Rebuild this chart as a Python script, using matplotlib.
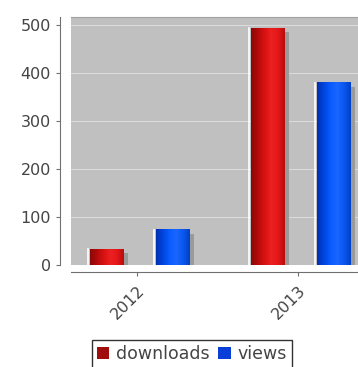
import matplotlib
matplotlib.use('Agg')
import matplotlib.pyplot as plt
import matplotlib.transforms as mtransforms
from matplotlib.colors import LinearSegmentedColormap
from matplotlib.patches import Rectangle
import numpy as np

years = ['2012', '2013']
downloads = [33, 494]
views = [73, 380]

plt.rcParams['font.family'] = 'DejaVu Sans'

fig = plt.figure(figsize=(3.58, 3.67), dpi=100)
ax = fig.add_axes([71 / 358, 1 - 265 / 367, 294 / 358, 248 / 367])
ax.set_facecolor('#c0c0c0')

ind = np.arange(len(years))
bar_width = 0.205
offsets = [-0.19, 0.22]

red_cmap = LinearSegmentedColormap.from_list(
    'r', ['#8a0808', '#b40a0a', '#d81212', '#ec2020', '#e41818', '#b80c0c'])
blue_cmap = LinearSegmentedColormap.from_list(
    'b', ['#0030b0', '#0046e0', '#0a5cff', '#1a66ff', '#0a58f0', '#0040c8'])

shadow = ax.transData + mtransforms.ScaledTranslation(5 / 100, -4 / 100, fig.dpi_scale_trans)
grad = np.linspace(0, 1, 64).reshape(1, -1)

for vals, off, cmap in [(downloads, offsets[0], red_cmap), (views, offsets[1], blue_cmap)]:
    for i, v in zip(ind, vals):
        x0 = i + off - bar_width / 2
        ax.add_patch(Rectangle((x0, 0), bar_width, v, transform=shadow,
                               facecolor='#9a9a9a', edgecolor='none', zorder=2))
        ax.imshow(grad, cmap=cmap, extent=[x0, x0 + bar_width, 0, v],
                  aspect='auto', zorder=3, interpolation='bilinear')
        ax.axvline(x0 - 0.012, ymin=0, ymax=v / 517, color='white', lw=1.2, zorder=3)

ax.set_xlim(-0.41, 1.416)
ax.set_ylim(0, 517)

for s in ['top', 'right']:
    ax.spines[s].set_color('#a0a0a0')
ax.spines['left'].set_position(('outward', 8))
ax.spines['bottom'].set_position(('outward', 5))
ax.spines['left'].set_color('#707070')
ax.spines['bottom'].set_color('#707070')

ax.set_yticks([0, 100, 200, 300, 400, 500])
ax.set_xticks(ind)
ax.set_xticklabels(years, rotation=45, ha='right', rotation_mode='anchor')
ax.yaxis.grid(True, color='#dcdcdc', lw=0.7)
ax.set_axisbelow(True)
ax.tick_params(colors='#707070', labelcolor='#444444', labelsize=11.5, length=3)
ax.tick_params(axis='x', pad=5)

handles = [Rectangle((0, 0), 1, 1, facecolor='#a00d0d'),
           Rectangle((0, 0), 1, 1, facecolor='#0a3ed8')]
leg = fig.legend(handles, ['downloads', 'views'], loc='upper center',
                 bbox_to_anchor=(192 / 358, 1 - 340 / 367), ncol=2, fontsize=12.5,
                 frameon=True, fancybox=False, handlelength=0.7, handleheight=0.7,
                 handletextpad=0.4, columnspacing=0.5, borderpad=0.3, borderaxespad=0)
leg.get_frame().set_edgecolor('black')
leg.get_frame().set_linewidth(1)
for t in leg.get_texts():
    t.set_color('#444444')

fig.savefig('out.png', dpi=100)
